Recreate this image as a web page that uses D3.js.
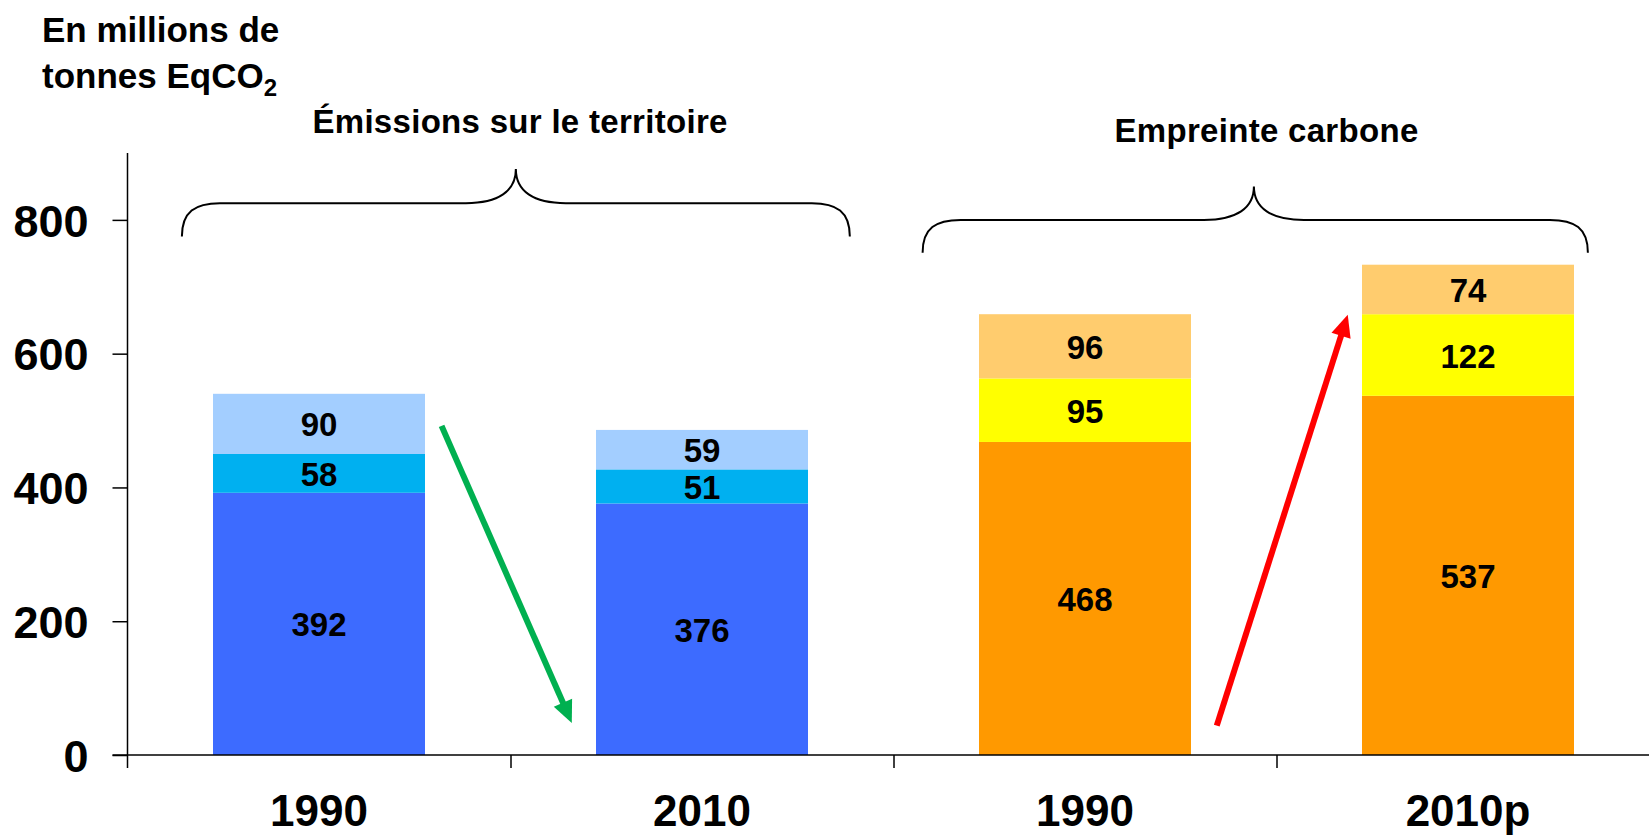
<!DOCTYPE html>
<html>
<head>
<meta charset="utf-8">
<script src="https://cdn.jsdelivr.net/npm/d3@7/dist/d3.min.js"></script>
<style>
  html, body { margin: 0; padding: 0; background: #ffffff; }
  svg { display: block; font-family: "Liberation Sans", Arial, Helvetica, sans-serif; font-weight: bold; }
</style>
</head>
<body>
<svg id="chart" width="1649" height="838"></svg>
<script>
// ---- data -------------------------------------------------------------
const categories = ["1990", "2010", "1990", "2010p"];
const groupTitles = ["Émissions sur le territoire", "Empreinte carbone"];
const groupOfBar = [0, 0, 1, 1];
const seriesBottom = [392, 376, 468, 537];
const seriesMiddle = [58, 51, 95, 122];
const seriesTop = [90, 59, 96, 74];
const yTickValues = [0, 200, 400, 600, 800];
const yMax = 900;
const unitLines = ["En millions de", "tonnes EqCO"];
const unitSubscript = "2";

// colours: one palette per group, bottom -> top
const groupColors = [
  ["#3D6BFF", "#00B0F0", "#A3CEFF"],
  ["#FF9900", "#FFFF00", "#FFCC6E"]
];

// trend arrows, in category units along the axis and data values
const trendArrows = [
  { t0: 0.820, v0: 492, t1: 1.160, v1: 48, color: "#00B050" },
  { t0: 2.844, v0: 44, t1: 3.186, v1: 658, color: "#FF0000" }
];

// group braces: ends, peak, horizontal and end levels (category units / values)
const braces = [
  { tStart: 0.142, tEnd: 1.886, tPeak: 1.014, vEnd: 775, vLine: 825, vPeak: 876 },
  { tStart: 2.076, tEnd: 3.813, tPeak: 2.941, vEnd: 751, vLine: 800, vPeak: 850 }
];
const braceTitlePos = [
  { t: 1.025, baseline: 132.7 },
  { t: 2.974, baseline: 141.7 }
];

// ---- layout -----------------------------------------------------------
const svg = d3.select("#chart");
const W = 1649;
const axisLeftX = 127.5;
const axisStep = 383;
const xRangeEnd = axisLeftX + axisStep * categories.length;
const yBottom = 755, yTop = 153;

const x = d3.scaleBand()
  .domain(d3.range(categories.length))
  .range([axisLeftX, xRangeEnd])
  .paddingInner(0.4465)
  .paddingOuter(0.22325);

// continuous scale along the category axis (for boundary ticks and annotations)
const xc = d3.scaleLinear().domain([0, categories.length]).range([axisLeftX, xRangeEnd]);

const y = d3.scaleLinear().domain([0, yMax]).range([yBottom, yTop]);

// ---- stacked bars -----------------------------------------------------
const rows = categories.map((c, i) => ({
  i, bottom: seriesBottom[i], middle: seriesMiddle[i], top: seriesTop[i]
}));
const keys = ["bottom", "middle", "top"];
const stacked = d3.stack().keys(keys)(rows);

const layers = svg.append("g").attr("class", "bars");
stacked.forEach((layer, k) => {
  layers.selectAll(null)
    .data(layer)
    .join("rect")
    .attr("x", d => x(d.data.i))
    .attr("width", x.bandwidth())
    .attr("y", d => y(d[1]))
    .attr("height", d => y(d[0]) - y(d[1]))
    .attr("fill", d => groupColors[groupOfBar[d.data.i]][k]);
});

// value labels centred in each segment
stacked.forEach((layer, k) => {
  svg.append("g").selectAll("text")
    .data(layer)
    .join("text")
    .attr("x", d => x(d.data.i) + x.bandwidth() / 2)
    .attr("y", d => (y(d[0]) + y(d[1])) / 2)
    .attr("dy", "0.38em")
    .attr("text-anchor", "middle")
    .attr("font-size", 33)
    .attr("fill", "#000")
    .text(d => d.data[keys[k]]);
});

// ---- axes -------------------------------------------------------------
const yTickLen = 15;
const yAxis = d3.axisLeft(y)
  .tickValues(yTickValues)
  .tickSize(yTickLen)
  .tickSizeOuter(0)
  .tickPadding(24)
  .tickFormat(d3.format("d"));

const gy = svg.append("g")
  .attr("transform", `translate(${axisLeftX},0)`)
  .call(yAxis);
gy.select(".domain").remove();
gy.selectAll(".tick line").attr("stroke", "#000").attr("stroke-width", 1.5);
gy.selectAll(".tick text")
  .attr("font-size", 45)
  .attr("font-family", "'Liberation Sans', Arial, sans-serif")
  .attr("font-weight", "bold")
  .attr("fill", "#000")
  .attr("dy", "0.36em");

const xTickLen = 13;
// vertical axis line, running a little below zero like the category ticks
svg.append("line")
  .attr("x1", axisLeftX).attr("x2", axisLeftX)
  .attr("y1", y(yMax)).attr("y2", y(0) + xTickLen)
  .attr("stroke", "#000").attr("stroke-width", 1.5);

// horizontal axis line
svg.append("line")
  .attr("x1", axisLeftX - yTickLen).attr("x2", W)
  .attr("y1", y(0)).attr("y2", y(0))
  .attr("stroke", "#000").attr("stroke-width", 1.5);

// category boundary ticks
const gxTicks = svg.append("g")
  .attr("transform", `translate(0,${y(0)})`)
  .call(d3.axisBottom(xc).tickValues(d3.range(1, categories.length)).tickSize(xTickLen).tickFormat(""));
gxTicks.select(".domain").remove();
gxTicks.selectAll(".tick line").attr("stroke", "#000").attr("stroke-width", 1.5);

// category labels
const gx = svg.append("g")
  .attr("transform", `translate(0,${y(0)})`)
  .call(d3.axisBottom(x).tickSize(0).tickPadding(40).tickFormat(i => categories[i]));
gx.select(".domain").remove();
gx.selectAll(".tick text")
  .attr("font-size", 44)
  .attr("font-family", "'Liberation Sans', Arial, sans-serif")
  .attr("font-weight", "bold")
  .attr("fill", "#000");

// ---- unit label -------------------------------------------------------
const unit = svg.append("g").attr("font-size", 35).attr("fill", "#000");
unit.append("text").attr("x", 42).attr("y", 42).text(unitLines[0]);
const line2 = unit.append("text").attr("x", 42).attr("y", 88);
line2.append("tspan").text(unitLines[1]);
line2.append("tspan").attr("font-size", 24).attr("dy", 8).text(unitSubscript);

// ---- group braces and titles -----------------------------------------
braces.forEach(b => {
  const x1 = xc(b.tStart), x2 = xc(b.tEnd), xm = xc(b.tPeak);
  const yE = y(b.vEnd), yL = y(b.vLine), yP = y(b.vPeak);
  const r = 38;      // end curl
  const c = 50;      // centre cusp half-width
  const p = d3.path();
  p.moveTo(x1, yE);
  p.bezierCurveTo(x1, yE - (yE - yL) * 0.75, x1 + r * 0.35, yL, x1 + r, yL);
  p.lineTo(xm - c, yL);
  p.bezierCurveTo(xm - c * 0.35, yL, xm, yL - (yL - yP) * 0.35, xm, yP);
  p.bezierCurveTo(xm, yL - (yL - yP) * 0.35, xm + c * 0.35, yL, xm + c, yL);
  p.lineTo(x2 - r, yL);
  p.bezierCurveTo(x2 - r * 0.35, yL, x2, yE - (yE - yL) * 0.75, x2, yE);
  svg.append("path")
    .attr("d", p.toString())
    .attr("fill", "none")
    .attr("stroke", "#000")
    .attr("stroke-width", 2);
});

svg.append("g").selectAll("text")
  .data(groupTitles)
  .join("text")
  .attr("x", (d, i) => xc(braceTitlePos[i].t))
  .attr("y", (d, i) => braceTitlePos[i].baseline)
  .attr("text-anchor", "middle")
  .attr("font-size", 33)
  .attr("letter-spacing", 0.3)
  .attr("fill", "#000")
  .text(d => d);

// ---- trend arrows -----------------------------------------------------
trendArrows.forEach(a => {
  const xa = xc(a.t0), ya = y(a.v0), xb = xc(a.t1), yb = y(a.v1);
  const dx = xb - xa, dy = yb - ya, len = Math.hypot(dx, dy);
  const ux = dx / len, uy = dy / len;
  const headLen = 22, headHalf = 10;
  const bx = xb - ux * headLen, by = yb - uy * headLen;
  svg.append("line")
    .attr("x1", xa).attr("y1", ya)
    .attr("x2", bx + ux * 2).attr("y2", by + uy * 2)
    .attr("stroke", a.color)
    .attr("stroke-width", 6);
  svg.append("path")
    .attr("d", d3.line()([
      [xb, yb],
      [bx - uy * headHalf, by + ux * headHalf],
      [bx + uy * headHalf, by - ux * headHalf]
    ]) + "Z")
    .attr("fill", a.color);
});
</script>
</body>
</html>
